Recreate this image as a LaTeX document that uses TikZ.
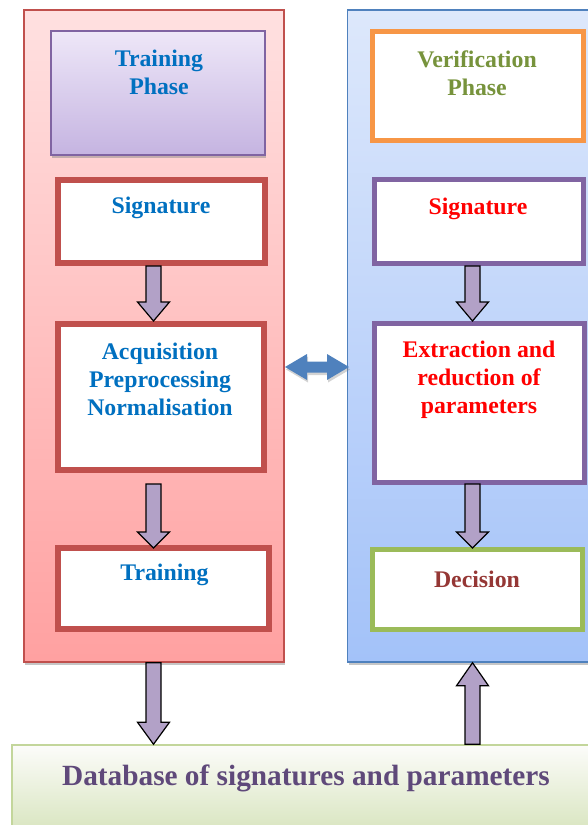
\documentclass[tikz,border=0pt]{standalone}
\usepackage{fontspec}
\setmainfont{Liberation Serif}
\usetikzlibrary{calc,shadows}

\definecolor{trainred}{HTML}{C0504D}
\definecolor{trainblue}{HTML}{0070C0}
\definecolor{veriblue}{HTML}{4F81BD}
\definecolor{verigreen}{HTML}{77933C}
\definecolor{veripurple}{HTML}{8064A2}
\definecolor{decgreen}{HTML}{9BBB59}
\definecolor{decred}{HTML}{953735}
\definecolor{orangeline}{HTML}{F79646}
\definecolor{arrowfill}{HTML}{B2A1C7}
\definecolor{dbtext}{HTML}{5F497A}

\tikzset{
  panel/.style={draw, line width=1.5pt, inner sep=0pt,
    drop shadow={shadow xshift=1pt, shadow yshift=-3pt, opacity=0.45}},
  stepbox/.style={draw, fill=white, line width=6pt, inner sep=0pt},
  boxtext/.style={font=\bfseries\fontsize{23.8}{28}\selectfont, align=center, inner sep=0pt},
  blockarr/.style={draw=black, line width=1.2pt, fill=arrowfill, line join=miter},
  dblarr/.style={fill=veriblue,
    drop shadow={shadow xshift=1pt, shadow yshift=-2.5pt, opacity=0.35}},
}

% vertical block arrow: start, tip, head offset
\newcommand{\blockarrow}[3]{%
  \draw[blockarr] let \p1=(#1), \p2=(#2) in
    (\x1-7.5pt,\y1) -- (\x1-7.5pt,\y2+#3) -- (\x1-16pt,\y2+#3) -- (\x1,\y2)
    -- (\x1+16pt,\y2+#3) -- (\x1+7.5pt,\y2+#3) -- (\x1+7.5pt,\y1) -- cycle;}

\begin{document}
\begin{tikzpicture}[x=1pt,y=-1pt]
  \clip (0,0) rectangle (588,825);

  % panels
  \node[panel, draw=trainred, top color=red!12, bottom color=red!37!white,
        minimum width=260pt, minimum height=652pt] (panL) at (154,336) {};
  \node[panel, draw=veriblue, top color={rgb,255:red,221;green,232;blue,251},
        bottom color={rgb,255:red,163;green,194;blue,249},
        minimum width=253pt, minimum height=652pt] (panR) at (474,336) {};

  % training side
  \node[panel, draw=veripurple, top color={rgb,255:red,238;green,231;blue,248},
        bottom color={rgb,255:red,197;green,180;blue,225},
        minimum width=214pt, minimum height=124pt] (tphase) at (158,93) {};
  \node[boxtext, text=trainblue] (tphaseT) at (159,72) {Training\\Phase};

  \node[stepbox, draw=trainred, minimum width=207pt, minimum height=83pt] (sigL) at (161.5,221.5) {};
  \node[boxtext, text=trainblue] (sigLT) at (161,208) {Signature};

  \node[stepbox, draw=trainred, minimum width=206pt, minimum height=146pt] (acqL) at (161,397) {};
  \node[boxtext, text=trainblue] (acqLT) at (160,379) {Acquisition\\Preprocessing\\Normalisation};

  \node[stepbox, draw=trainred, minimum width=211pt, minimum height=81pt] (trnL) at (163.5,588.5) {};
  \node[boxtext, text=trainblue] (trnLT) at (164.5,575) {Training};

  % verification side
  \node[stepbox, draw=orangeline, line width=5pt, minimum width=211pt, minimum height=109pt] (vphase) at (478,86) {};
  \node[boxtext, text=verigreen] (vphaseT) at (477,73) {Verification\\Phase};

  \node[stepbox, draw=veripurple, line width=5pt, minimum width=209pt, minimum height=84pt] (sigR) at (479,221.5) {};
  \node[boxtext, text=red] (sigRT) at (478,209) {Signature};

  \node[stepbox, draw=veripurple, line width=5pt, minimum width=210pt, minimum height=159pt] (extR) at (479.5,403) {};
  \node[boxtext, text=red] (extRT) at (479,380) {Extraction and\\reduction of\\parameters};

  \node[stepbox, draw=decgreen, line width=5pt, minimum width=210pt, minimum height=80pt] (decR) at (477.5,589.5) {};
  \node[boxtext, text=decred] (decRT) at (477,579) {Decision};

  % database
  \node[draw={rgb,255:red,195;green,214;blue,155}, line width=1.5pt, inner sep=0pt,
        top color={rgb,255:red,252;green,252;blue,250}, bottom color={rgb,255:red,215;green,228;blue,189},
        minimum width=588pt, minimum height=90pt] (db) at (306,790) {};
  \node[font=\bfseries\fontsize{29.3}{34}\selectfont, text=dbtext, inner sep=0pt] (dbT) at (306,778)
        {Database of signatures and parameters};

  % arrows
  \coordinate (colL) at (153.5,0);
  \coordinate (colR) at (472.5,0);
  \blockarrow{sigL.south -| colL}{acqL.north -| colL}{19pt}
  \blockarrow{$(acqL.south -| colL)+(0,11)$}{$(trnL.north -| colL)+(0,3)$}{16pt}
  \blockarrow{panL.south -| colL}{db.north -| colL}{22pt}
  \blockarrow{sigR.south -| colR}{extR.north -| colR}{19pt}
  \blockarrow{$(extR.south -| colR)+(0,-1)$}{$(decR.north -| colR)+(0,1)$}{16pt}
  \blockarrow{db.north -| colR}{panR.south -| colR}{-23pt}

  % link between phases
  \coordinate (lnkL) at (285,367);
  \coordinate (lnkR) at (349,367);
  \fill[dblarr] let \p1=(lnkL), \p2=(lnkR) in
    (\x1,\y1) -- (\x1+22pt,\y1+13pt) -- (\x1+22pt,\y1+5.5pt) -- (\x2-22pt,\y1+5.5pt)
    -- (\x2-22pt,\y1+13pt) -- (\x2,\y2) -- (\x2-22pt,\y1-13pt) -- (\x2-22pt,\y1-5.5pt)
    -- (\x1+22pt,\y1-5.5pt) -- (\x1+22pt,\y1-13pt) -- cycle;
\end{tikzpicture}
\end{document}
